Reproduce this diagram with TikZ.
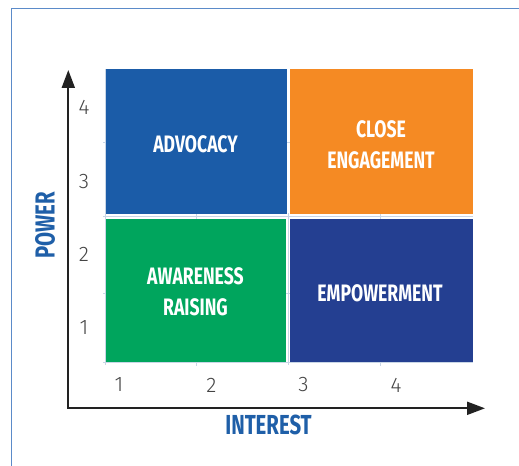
\documentclass[tikz,border=0pt]{standalone}
\usepackage{fontspec}
\usetikzlibrary{arrows.meta}
\setmainfont{Fira Sans}
\newfontfamily\condbold[FakeStretch=0.74]{Fira Sans Bold}
\newfontfamily\lightnum{Fira Sans Light}
\definecolor{frameblue}{HTML}{5B8BC9}
\definecolor{advblue}{HTML}{1B5CA8}
\definecolor{engorange}{HTML}{F58A23}
\definecolor{awgreen}{HTML}{00A55D}
\definecolor{empnavy}{HTML}{243F91}
\definecolor{titleblue}{HTML}{1F5FA8}
\definecolor{axisgray}{HTML}{222222}
\definecolor{gridgray}{HTML}{C9D6E6}
\definecolor{numgray}{HTML}{444444}
\begin{document}
\begin{tikzpicture}[x=1bp,y=-1bp,
  quad/.style={draw=none,inner sep=0pt,anchor=north west,text=white,align=center,
    font=\condbold\fontsize{23.8bp}{31bp}\selectfont},
  axistitle/.style={text=titleblue,inner sep=0pt,font=\condbold\fontsize{27.5bp}{30bp}\selectfont},
  tick/.style={text=numgray,inner sep=0pt,font=\lightnum\fontsize{21bp}{24bp}\selectfont},
  axisline/.style={draw=axisgray,line width=2pt,-{Triangle[length=18bp,width=13bp]}},
  gridline/.style={draw=gridgray,line width=0.8pt}]
\useasboundingbox (0,0) rectangle (519,466);
\fill[white] (0,0) rectangle (519,466);
% frame
\draw[frameblue,line width=1.6pt] (11.5,466) -- (11.5,8.5) -- (519,8.5);
% faint grid
\draw[gridline] (103,216) -- (473,216);
\draw[gridline] (103,362.5) -- (473,362.5);
\draw[gridline] (105,69) -- (105,365);
\draw[gridline] (288,213) -- (288,365);
\draw[gridline] (196,213) -- (196,219);
\draw[gridline] (380,213) -- (380,219);
\draw[gridline] (196,362) -- (196,366);
\draw[gridline] (380,362) -- (380,366);
\draw[gridline] (103,142) -- (105,142);
\draw[gridline] (103,293) -- (105,293);
\draw[gridline] (286,142) -- (290,142);
\draw[gridline] (286,293) -- (290,293);
% quadrants
\node[quad,fill=advblue,minimum width=181bp,minimum height=145bp] (adv) at (105.5,69) {};
\node[quad,fill=engorange,minimum width=183bp,minimum height=145bp] (eng) at (290,69) {};
\node[quad,fill=awgreen,minimum width=180bp,minimum height=142.5bp] (aw) at (105.5,219.2) {};
\node[quad,fill=empnavy,minimum width=183bp,minimum height=142.5bp] (emp) at (290,219.2) {};
\node[quad,anchor=center] (advt) at (195.5,144) {ADVOCACY};
\node[quad,anchor=center] (engt) at (381,145) {CLOSE\\ENGAGEMENT};
\node[quad,anchor=center] (awt) at (195.5,291.5) {AWARENESS\\RAISING};
\node[quad,anchor=center] (empt) at (380,293) {EMPOWERMENT};
% axes
\coordinate (origin) at (68.3,408.3);
\coordinate (ytip) at (68.3,70);
\coordinate (xtip) at (485,408.3);
\draw[axisline] (origin) -- (ytip);
\draw[axisline] (origin) -- (xtip);
\draw[axisgray,line width=2pt] (67.3,408.3) -- (70,408.3);
% ticks
\node[tick] (y4) at (84,107.5) {4};
\node[tick] (y3) at (84,181.5) {3};
\node[tick] (y2) at (84,254.5) {2};
\node[tick] (y1) at (84,327.5) {1};
\node[tick] (x1) at (119,385) {1};
\node[tick] (x2) at (211.5,385) {2};
\node[tick] (x3) at (303.5,385) {3};
\node[tick] (x4) at (396,385) {4};
% titles
\node[axistitle] (inter) at (268.5,424.5) {INTEREST};
\node[axistitle,rotate=90] (pow) at (45,225.5) {POWER};
\end{tikzpicture}
\end{document}
